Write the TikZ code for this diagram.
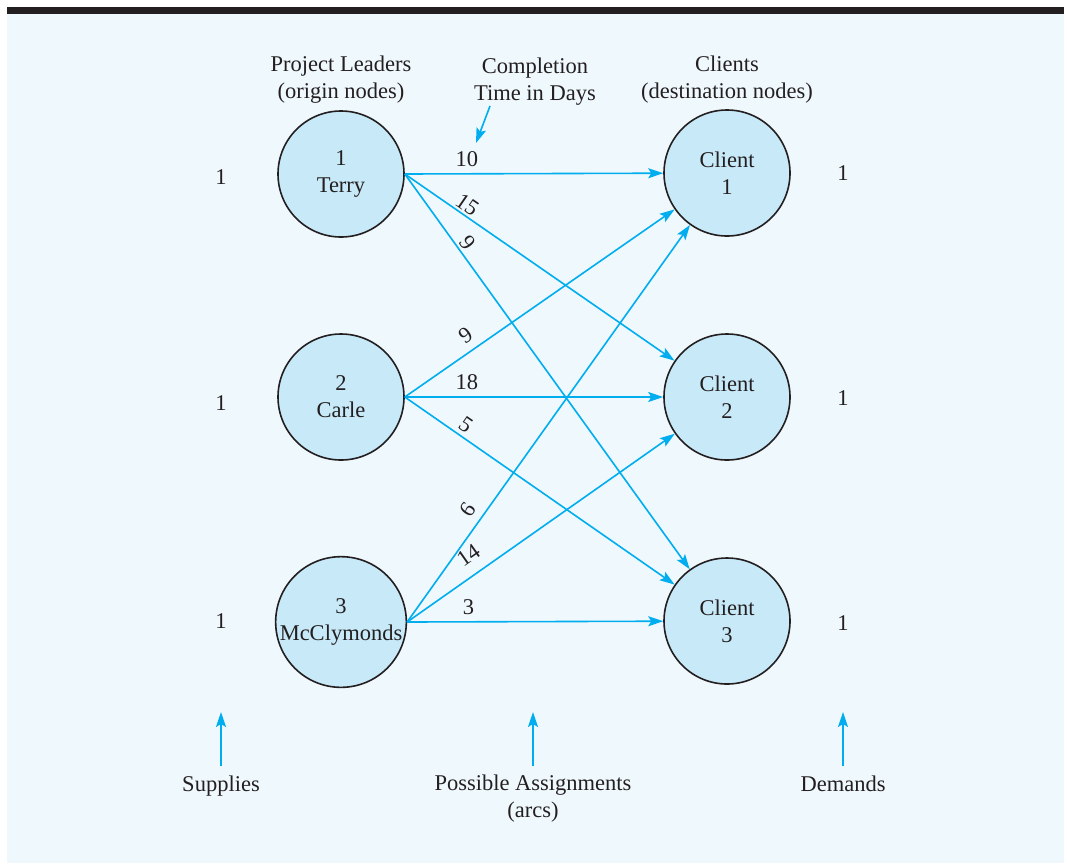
\documentclass[tikz,border=0pt]{standalone}
\usepackage{fontspec}
\setmainfont{Liberation Serif}
\newfontfamily\asserif{Liberation Serif}
\usepackage{xcolor}
\usepackage{tikz}
\usetikzlibrary{arrows.meta}
\definecolor{asblue}{RGB}{0,174,239}
\definecolor{asback}{RGB}{239,248,253}
\definecolor{asfill}{RGB}{200,234,248}
\definecolor{asink}{RGB}{35,31,32}
\tikzset{
  asbar/.style={fill=asink, draw=none},
  asbackground/.style={fill=asback, draw=none},
  asnode/.style={circle, minimum size=126pt, inner sep=0pt, fill=asfill, draw=asink, line width=1.6pt, align=center, font=\asserif\fontsize{22.5}{27}\selectfont, text=asink},
  astext/.style={align=center, inner sep=0pt, font=\asserif\fontsize{22.5}{27}\selectfont, text=asink},
  asnum/.style={inner sep=0pt, font=\asserif\fontsize{22.5}{27}\selectfont, text=asink},
  asarc/.style={line width=1.6pt, draw=asblue, -{Stealth[length=15pt,width=10pt,inset=3pt]}},
  ascost/.style={sloped, inner sep=0pt, font=\asserif\fontsize{22.5}{27}\selectfont, text=asink},
}

\begin{document}
\begin{tikzpicture}[x=1pt,y=-1pt]
\useasboundingbox (0,0) rectangle (1067,863);
\fill[asbackground] (7,13) rectangle (1064,863);
\fill[asbar] (7,7) rectangle (1064,13.5);
\node[astext] (leaders) at (341,80) {Project Leaders\\(origin nodes)};
\node[astext] (ctime) at (535,82) {Completion\\Time in Days};
\node[astext] (clients) at (727,80) {Clients\\(destination nodes)};
\node[asnode] (terry) at (341,174) {1\\Terry};
\node[asnode] (carle) at (341,397) {2\\Carle};
\node[asnode] (mccly) at (341,622) {3\\McClymonds};
\node[asnode] (cl1) at (727,173) {Client\\1};
\node[asnode] (cl2) at (727,397) {Client\\2};
\node[asnode] (cl3) at (727,621) {Client\\3};
\node[asnum] (s1) at (221,177) {1};
\node[asnum] (s2) at (221,403) {1};
\node[asnum] (s3) at (221,621) {1};
\node[asnum] (d1) at (843,173) {1};
\node[asnum] (d2) at (843,398) {1};
\node[asnum] (d3) at (843,623) {1};
\draw[asarc] (terry.east) -- node[ascost,pos=0.24,above=6pt] (c11) {10} (cl1);
\draw[asarc] (terry.east) -- node[ascost,pos=0.21,above=2pt] (c12) {15} (cl2);
\draw[asarc] (terry.east) -- node[ascost,pos=0.19,above=3pt] (c13) {9} (cl3);
\draw[asarc] (carle.east) -- node[ascost,pos=0.26,above=8pt] (c21) {9} (cl1);
\draw[asarc] (carle.east) -- node[ascost,pos=0.24,above=6pt] (c22) {18} (cl2);
\draw[asarc] (carle.east) -- node[ascost,pos=0.20,above=4pt] (c23) {5} (cl3);
\draw[asarc] (mccly.east) -- node[ascost,pos=0.26,above=7pt] (c31) {6} (cl1);
\draw[asarc] (mccly.east) -- node[ascost,pos=0.27,above=11pt] (c32) {14} (cl2);
\draw[asarc] (mccly.east) -- node[ascost,pos=0.24,above=6pt] (c33) {3} (cl3);
\coordinate (ctail) at (490,106);
\coordinate (ctip) at (476,143);
\draw[asarc] (ctail) -- (ctip);
\node[astext, anchor=base] (supplies) at (221,791) {Supplies};
\node[astext] (assign) at (533,799) {Possible Assignments\\(arcs)};
\node[astext, anchor=base] (demands) at (843,791) {Demands};
\coordinate (suptip) at (221,712);
\coordinate (asstip) at (533,712);
\coordinate (demtip) at (843,712);
\draw[asarc] (221,766) -- (suptip);
\draw[asarc] (533,766) -- (asstip);
\draw[asarc] (843,766) -- (demtip);
\end{tikzpicture}
\end{document}
